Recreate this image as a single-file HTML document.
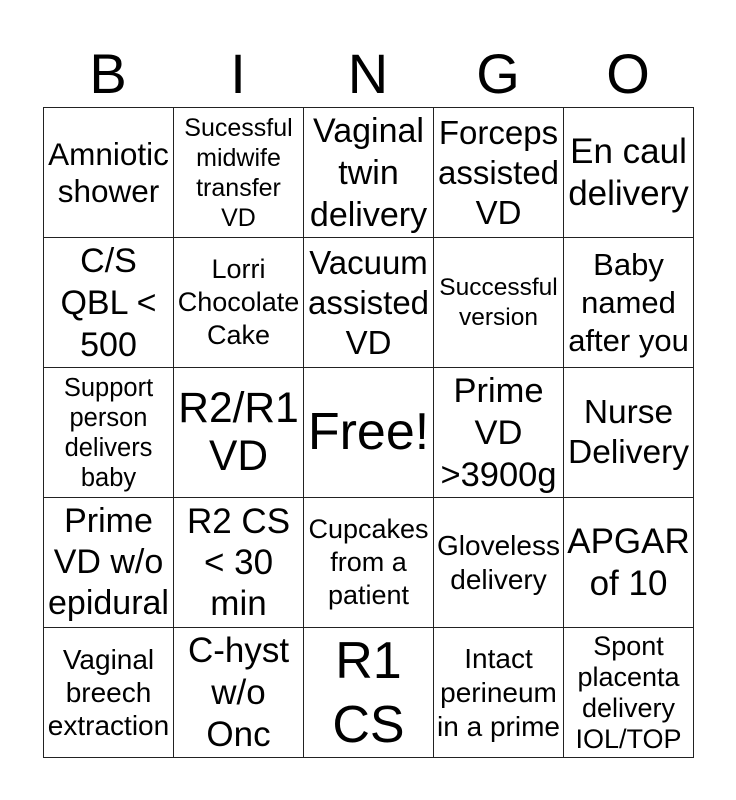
<!DOCTYPE html>
<html><head><style>
body{margin:0;width:736px;height:800px;background:#fff;font-family:"Liberation Sans",Arial,sans-serif;position:relative;overflow:hidden}
.h{position:absolute;top:42px;width:130px;text-align:center;font-size:56px;line-height:64px}
table{position:absolute;left:43px;top:107px;border-collapse:collapse}
td{width:129px;height:129px;border:1.5px solid #222;text-align:center;vertical-align:middle;padding:0;line-height:1.15;color:#000;white-space:nowrap;overflow:hidden}
</style></head><body>
<div class="h" style="left:43px">B</div>
<div class="h" style="left:173px">I</div>
<div class="h" style="left:303px">N</div>
<div class="h" style="left:433px">G</div>
<div class="h" style="left:563px">O</div>
<table>
<tr>
<td style="font-size:31.5px;line-height:37px">Amniotic<br>shower</td>
<td style="font-size:25px;line-height:30px">Sucessful<br>midwife<br>transfer<br>VD</td>
<td style="font-size:34px;line-height:42px">Vaginal<br>twin<br>delivery</td>
<td style="font-size:33px;line-height:40px">Forceps<br>assisted<br>VD</td>
<td style="font-size:35px;line-height:42px">En caul<br>delivery</td>
</tr>
<tr>
<td style="font-size:34px;line-height:42px">C/S<br>QBL &lt;<br>500</td>
<td style="font-size:27px;line-height:33px">Lorri<br>Chocolate<br>Cake</td>
<td style="font-size:33px;line-height:40px">Vacuum<br>assisted<br>VD</td>
<td style="font-size:24.5px;line-height:30px">Successful<br>version</td>
<td style="font-size:31px;line-height:38px">Baby<br>named<br>after you</td>
</tr>
<tr>
<td style="font-size:25.5px;line-height:30px">Support<br>person<br>delivers<br>baby</td>
<td style="font-size:42.5px;line-height:48px">R2/R1<br>VD</td>
<td style="font-size:52px">Free!</td>
<td style="font-size:34.5px;line-height:42px">Prime<br>VD<br>&gt;3900g</td>
<td style="font-size:33.5px;line-height:40px">Nurse<br>Delivery</td>
</tr>
<tr>
<td style="font-size:34px;line-height:41px">Prime<br>VD w/o<br>epidural</td>
<td style="font-size:35px;line-height:41px">R2 CS<br>&lt; 30<br>min</td>
<td style="font-size:27px;line-height:33px">Cupcakes<br>from a<br>patient</td>
<td style="font-size:28px;line-height:34px">Gloveless<br>delivery</td>
<td style="font-size:35px;line-height:42px">APGAR<br>of 10</td>
</tr>
<tr>
<td style="font-size:28px;line-height:33px">Vaginal<br>breech<br>extraction</td>
<td style="font-size:35px;line-height:42px">C-hyst<br>w/o<br>Onc</td>
<td style="font-size:52px;line-height:64px">R1<br>CS</td>
<td style="font-size:28px;line-height:34px">Intact<br>perineum<br>in a prime</td>
<td style="font-size:27px;line-height:31px">Spont<br>placenta<br>delivery<br>IOL/TOP</td>
</tr>
</table>
</body></html>
